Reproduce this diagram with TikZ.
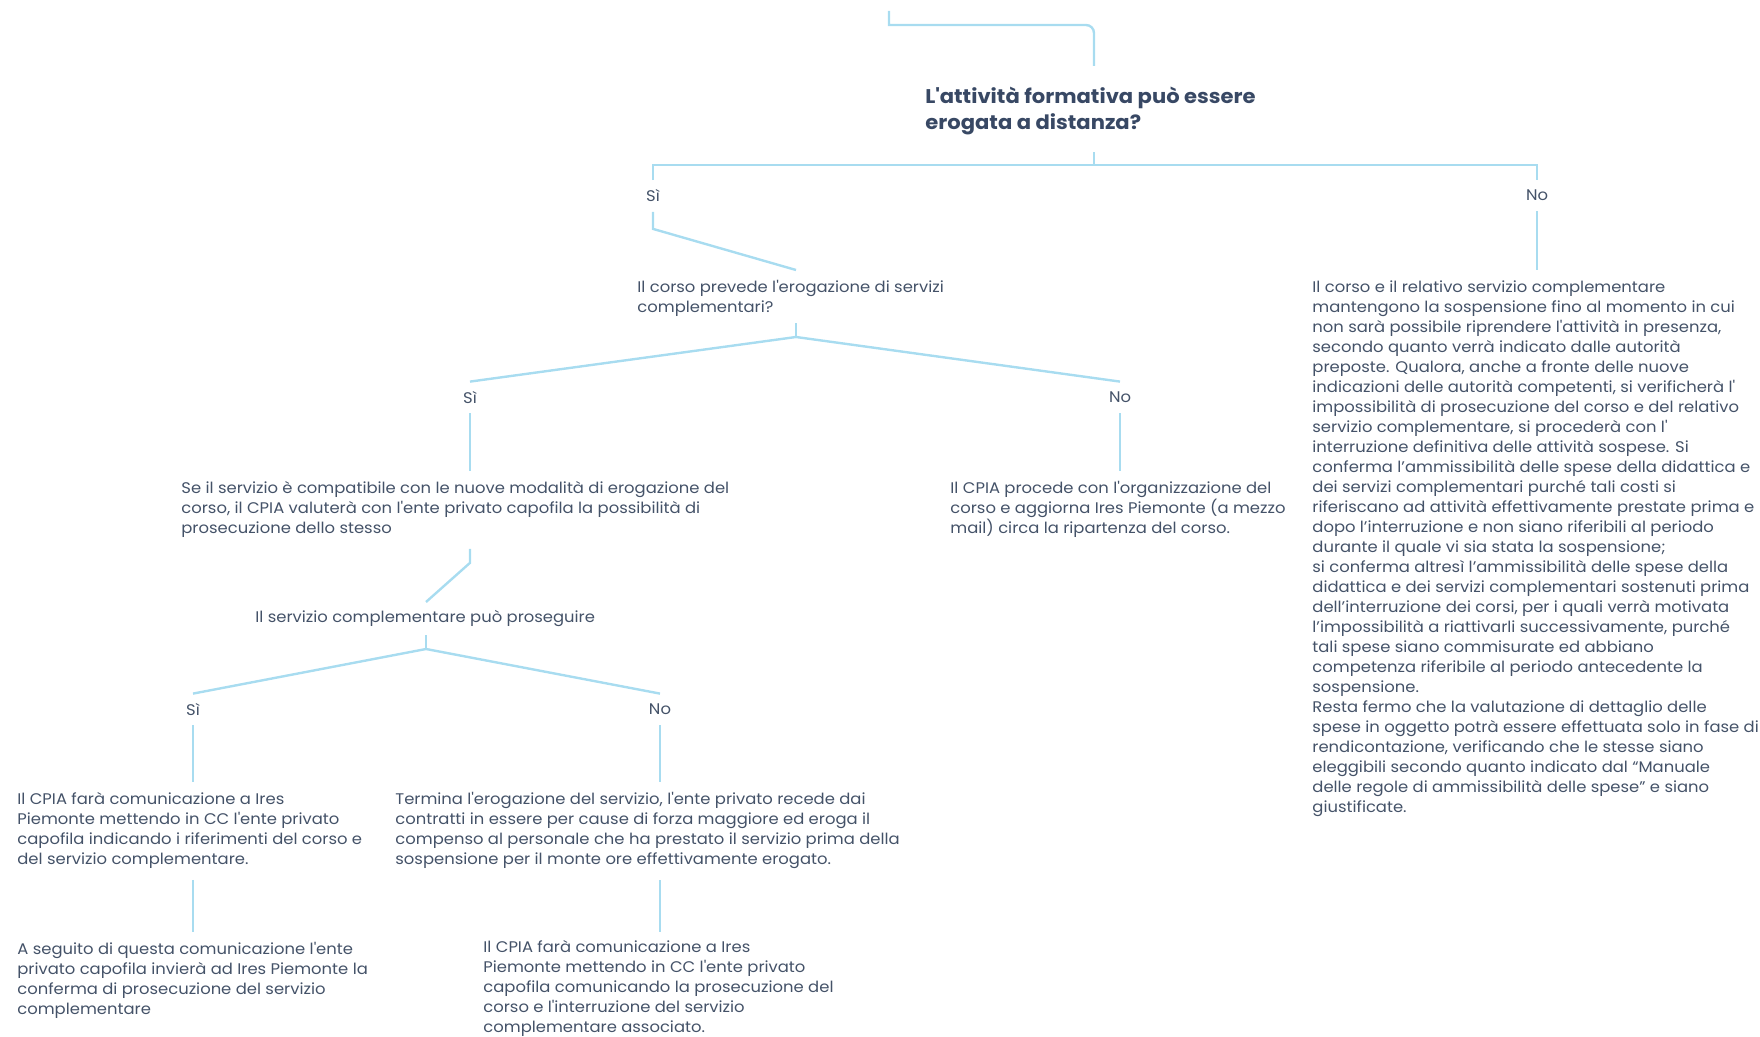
\documentclass[tikz,border=0pt]{standalone}
\usepackage{fontspec}
\setmainfont{Poppins}[FakeStretch=1.065]
\usetikzlibrary{positioning,calc}
\definecolor{linkblue}{RGB}{168,220,240}
\definecolor{textslate}{RGB}{68,82,104}
\definecolor{titleslate}{RGB}{56,72,100}
\newcommand{\ap}{\textquotesingle}

\begin{document}
\begin{tikzpicture}[x=0.5pt, y=-0.5pt,
  link/.style={draw=linkblue, line width=1.2pt},
  txt/.style={anchor=north west, align=left, inner sep=0, text=textslate, font=\fontsize{7.7}{10}\selectfont},
  lab/.style={inner sep=0, minimum height=15.5pt, text=textslate, font=\fontsize{7.7}{10}\selectfont},
  ttl/.style={anchor=north west, align=left, inner sep=0, text=titleslate, font=\fontsize{9.9}{13}\selectfont\bfseries}]
  \useasboundingbox (0,0) rectangle (1760,1037);

  % question nodes and answers
  \node[ttl] (q1) at (925,87) {L\ap attività formativa può essere\\erogata a distanza?};
  \node[lab] (si1) at (653,196) {Sì};
  \node[lab] (no1) at (1537,195.5) {No};
  \node[txt] (q2) at (637,280) {Il corso prevede l\ap erogazione di servizi\\complementari?};
  \node[lab] (si2) at (470,397.5) {Sì};
  \node[lab] (no2) at (1120,397.5) {No};
  \node[txt] (s2) at (181,481) {Se il servizio è compatibile con le nuove modalità di erogazione del\\corso, il CPIA valuterà con l\ap ente privato capofila la possibilità di\\prosecuzione dello stesso};
  \node[txt] (n2) at (950,481) {Il CPIA procede con l\ap organizzazione del\\corso e aggiorna Ires Piemonte (a mezzo\\mail) circa la ripartenza del corso.};
  \node[txt] (q3) at (255,610) {Il servizio complementare può proseguire};
  \node[lab] (si3) at (193,709.5) {Sì};
  \node[lab] (no3) at (660,709.5) {No};
  \node[txt] (s3) at (17,792) {Il CPIA farà comunicazione a Ires\\Piemonte mettendo in CC l\ap ente privato\\capofila indicando i riferimenti del corso e\\del servizio complementare.};
  \node[txt] (n3) at (395,792) {Termina l\ap erogazione del servizio, l\ap ente privato recede dai\\contratti in essere per cause di forza maggiore ed eroga il\\compenso al personale che ha prestato il servizio prima della\\sospensione per il monte ore effettivamente erogato.};
  \node[txt] (s4) at (17,942) {A seguito di questa comunicazione l\ap ente\\privato capofila invierà ad Ires Piemonte la\\conferma di prosecuzione del servizio\\complementare};
  \node[txt] (n4) at (483,940) {Il CPIA farà comunicazione a Ires\\Piemonte mettendo in CC l\ap ente privato\\capofila comunicando la prosecuzione del\\corso e l\ap interruzione del servizio\\complementare associato.};
  \node[txt] (r) at (1312,280) {Il corso e il relativo servizio complementare\\mantengono la sospensione fino al momento in cui\\non sarà possibile riprendere l\ap attività in presenza,\\secondo quanto verrà indicato dalle autorità\\preposte. Qualora, anche a fronte delle nuove\\indicazioni delle autorità competenti, si verificherà l\ap\\impossibilità di prosecuzione del corso e del relativo\\servizio complementare, si procederà con l\ap\\interruzione definitiva delle attività sospese. Si\\conferma l’ammissibilità delle spese della didattica e\\dei servizi complementari purché tali costi si\\riferiscano ad attività effettivamente prestate prima e\\dopo l’interruzione e non siano riferibili al periodo\\durante il quale vi sia stata la sospensione;\\si conferma altresì l’ammissibilità delle spese della\\didattica e dei servizi complementari sostenuti prima\\dell’interruzione dei corsi, per i quali verrà motivata\\l’impossibilità a riattivarli successivamente, purché\\tali spese siano commisurate ed abbiano\\competenza riferibile al periodo antecedente la\\sospensione.\\Resta fermo che la valutazione di dettaglio delle\\spese in oggetto potrà essere effettuata solo in fase di\\rendicontazione, verificando che le stesse siano\\eleggibili secondo quanto indicato dal “Manuale\\delle regole di ammissibilità delle spese” e siano\\giustificate.};

  % junctions
  \coordinate (root) at (889,11);
  \coordinate (j1) at (1094,165);
  \coordinate (j2) at (796,337);
  \coordinate (j3) at (426,649);

  % connectors
  \draw[link] (root) -- ++(0,14) [rounded corners=4pt] -| ($(q1.north -| j1)+(0,-21)$);
  \draw[link] (j1) -- ++(0,-13);
  \draw[link] (si1.north) |- (j1) -| (no1.north);
  \draw[link] (si1.south) -- ++(0,17) -- ($(q2.north -| j2)+(0,-10)$);
  \draw[link] (no1.south) -- ($(r.north -| no1.south)+(0,-10)$);
  \draw[link] (j2) -- ++(0,-14);
  \draw[link] (si2.north) -- (j2) -- (no2.north);
  \draw[link] (si2.south) -- ($(s2.north -| si2.south)+(0,-10)$);
  \draw[link] (no2.south) -- ($(n2.north -| no2.south)+(0,-10)$);
  \draw[link] ($(s2.south -| si2.south)+(0,11)$) -- ++(0,14) -- ($(q3.north -| j3)+(0,-8)$);
  \draw[link] (j3) -- ++(0,-14);
  \draw[link] (si3.north) -- (j3) -- (no3.north);
  \draw[link] (si3.south) -- ($(s3.north -| si3.south)+(0,-10)$);
  \draw[link] (no3.south) -- ($(n3.north -| no3.south)+(0,-10)$);
  \draw[link] ($(s3.south -| si3.south)+(0,11)$) -- ($(s4.north -| si3.south)+(0,-10)$);
  \draw[link] ($(n3.south -| no3.south)+(0,11)$) -- ($(n4.north -| no3.south)+(0,-8)$);
\end{tikzpicture}
\end{document}
